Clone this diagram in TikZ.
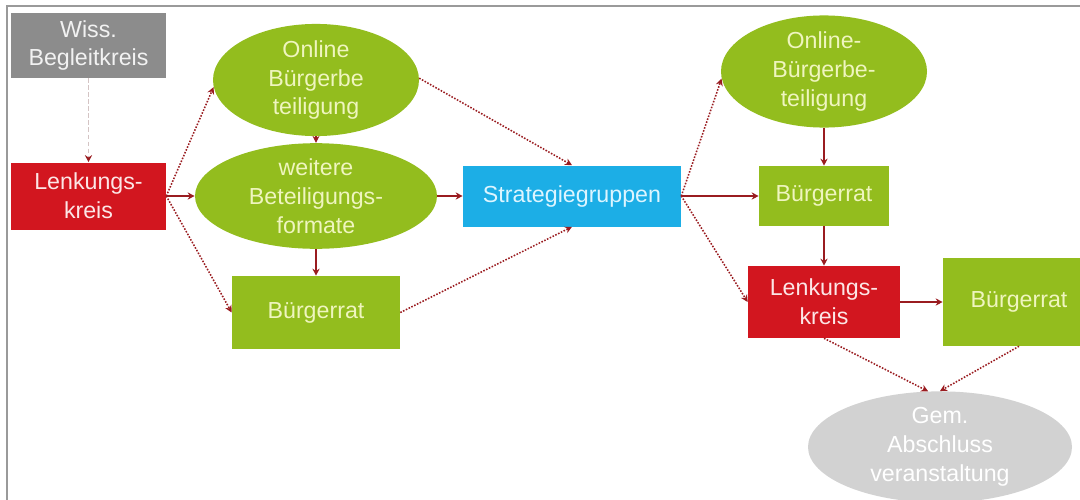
\documentclass[tikz,border=0pt]{standalone}
\usepackage{fontspec}
\setmainfont{Liberation Sans}
\usetikzlibrary{shapes.geometric,arrows.meta}
\definecolor{gruen}{HTML}{93BD1E}
\definecolor{rot}{HTML}{D2161F}
\definecolor{blau}{HTML}{1CAEE6}
\definecolor{grau}{HTML}{8C8C8C}
\definecolor{hellgrau}{HTML}{D2D2D2}
\definecolor{pfeil}{HTML}{9A1C20}
\definecolor{gtext}{HTML}{EFF5BF}
\definecolor{rtext}{HTML}{FCE6E6}
\definecolor{btext}{HTML}{DDF5FF}
\definecolor{rahmen}{HTML}{9A9A9A}
\begin{document}
\begin{tikzpicture}[x=0.025cm,y=-0.025cm,
  base/.style={inner sep=0pt, align=center, font=\fontsize{16.5}{20.5}\selectfont},
  sz/.style 2 args={minimum width=#1*0.025cm, minimum height=#2*0.025cm},
  greenbox/.style={base, rectangle, fill=gruen, text=gtext},
  greenell/.style={base, ellipse, fill=gruen, text=gtext},
  redbox/.style={base, rectangle, fill=rot, text=rtext},
  bluebox/.style={base, rectangle, fill=blau, text=btext},
  graybox/.style={base, rectangle, fill=grau, text=white!95!black},
  grayell/.style={base, ellipse, fill=hellgrau, text=white},
  tip/.style={-{Stealth[length=5pt,width=5pt]}},
  solidarrow/.style={tip, draw=pfeil, line width=1.1pt},
  dotarrow/.style={tip, draw=pfeil, line width=1.1pt, dash pattern=on 1.1pt off 1.1pt},
  lightarrow/.style={-{Stealth[length=5pt,width=5pt,color=pfeil]}, draw=red!15!gray!40, line width=0.9pt, dash pattern=on 3pt off 2pt}
]
\useasboundingbox (0,0) rectangle (1080,500);
\fill[white] (0,0) rectangle (1080,500);
\draw[rahmen, line width=1pt] (7,505) -- (7,6) -- (1085,6);

% left part
\node[graybox, sz={155}{65}] (wiss) at (88.5,45.5) {Wiss.\\Begleitkreis};
\node[redbox, sz={155}{67}] (lk1) at (88.5,196) {Lenkungs-\\kreis};
\node[greenell, sz={206}{96}] (on1) at (316,80) {Online\\Bürgerbe\\teiligung};
\node[greenell, sz={242}{100}] (wb) at (316,196) {weitere\\Beteiligungs-\\formate};
\node[greenbox, sz={168}{73}] (br1) at (316,312.5) {Bürgerrat};

% middle
\node[bluebox, sz={218}{61}] (sg) at (572,196) {Strategiegruppen};

% right part
\node[greenell, sz={206}{95}] (on2) at (824,71.5) {Online-\\Bürgerbe-\\teiligung};
\node[greenbox, sz={130}{60}] (br2) at (824,196) {Bürgerrat};
\node[redbox, sz={152}{72}] (lk2) at (824,302) {Lenkungs-\\kreis};
\node[greenbox, sz={152}{88}] (br3) at (1019,302) {Bürgerrat};
\node[grayell, sz={264}{108}] (gem) at (940,447) {Gem.\\Abschluss\\veranstaltung};

% connectors
\draw[lightarrow] (wiss.south) -- (lk1.north);
\draw[dotarrow] (lk1.east) -- (on1.184);
\draw[solidarrow] (lk1.east) -- (wb.west);
\draw[dotarrow] (lk1.east) -- (br1.west);
\draw[solidarrow] (on1.south) -- (wb.north);
\draw[solidarrow] (wb.south) -- (br1.north);
\draw[dotarrow] (on1.1) -- (sg.north);
\draw[solidarrow] (wb.east) -- (sg.west);
\draw[dotarrow] (br1.east) -- (sg.south);
\draw[dotarrow] (sg.east) -- (on2.184);
\draw[solidarrow] (sg.east) -- (br2.west);
\draw[dotarrow] (sg.east) -- (lk2.west);
\draw[solidarrow] (on2.south) -- (br2.north);
\draw[solidarrow] (br2.south) -- (lk2.north);
\draw[solidarrow] (lk2.east) -- (br3.west);
\draw[dotarrow] (lk2.south) -- (gem.102);
\draw[dotarrow] (br3.south) -- (gem.north);
\end{tikzpicture}
\end{document}
